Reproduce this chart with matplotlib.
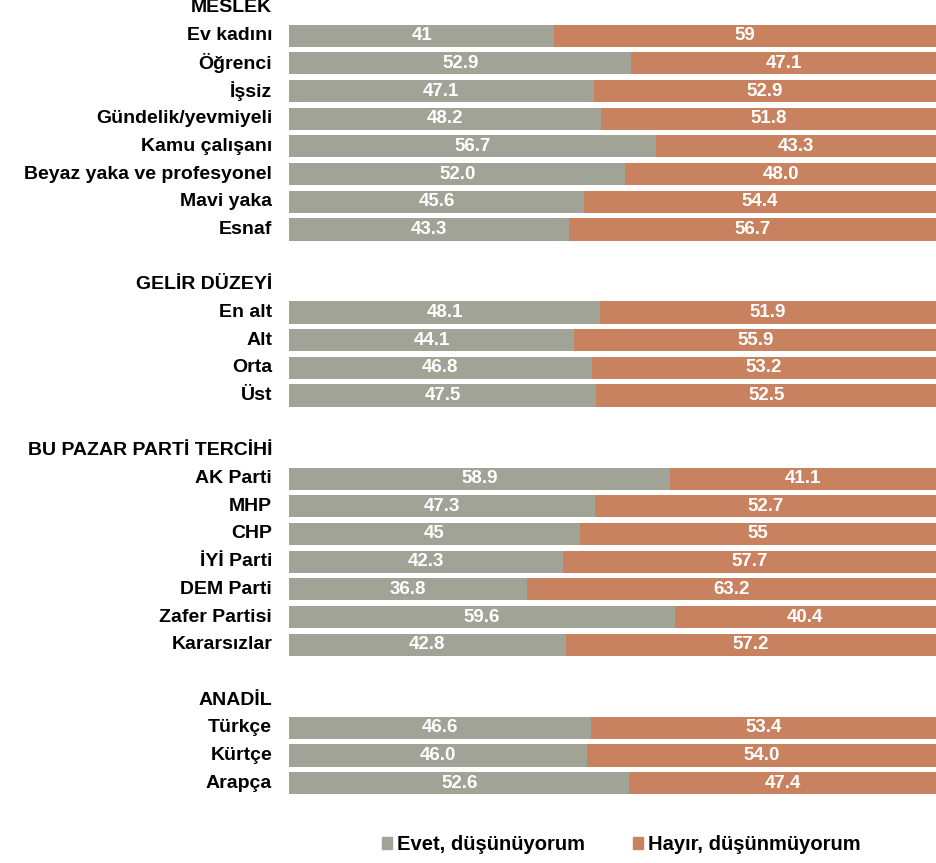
import matplotlib
matplotlib.use("Agg")
import matplotlib.pyplot as plt
from matplotlib.patches import Patch

plt.rcParams['font.family'] = ['Liberation Sans', 'DejaVu Sans']
plt.rcParams['font.weight'] = 'bold'

# groups and rows, in top-to-bottom order
groups = ['MESLEK', 'GELİR DÜZEYİ', 'BU PAZAR PARTİ TERCİHİ', 'ANADİL']
categories = [
    ['Ev kadını', 'Öğrenci', 'İşsiz', 'Gündelik/yevmiyeli', 'Kamu çalışanı',
     'Beyaz yaka ve profesyonel', 'Mavi yaka', 'Esnaf'],
    ['En alt', 'Alt', 'Orta', 'Üst'],
    ['AK Parti', 'MHP', 'CHP', 'İYİ Parti', 'DEM Parti', 'Zafer Partisi', 'Kararsızlar'],
    ['Türkçe', 'Kürtçe', 'Arapça'],
]
evet = [
    ['41', '52.9', '47.1', '48.2', '56.7', '52.0', '45.6', '43.3'],
    ['48.1', '44.1', '46.8', '47.5'],
    ['58.9', '47.3', '45', '42.3', '36.8', '59.6', '42.8'],
    ['46.6', '46.0', '52.6'],
]
hayir = [
    ['59', '47.1', '52.9', '51.8', '43.3', '48.0', '54.4', '56.7'],
    ['51.9', '55.9', '53.2', '52.5'],
    ['41.1', '52.7', '55', '57.7', '63.2', '40.4', '57.2'],
    ['53.4', '54.0', '47.4'],
]
series_names = ['Evet, düşünüyorum', 'Hayır, düşünmüyorum']

c_evet = '#A0A396'
c_hayir = '#C8825F'

fig = plt.figure(figsize=(9.36, 8.63), dpi=100)
ax = fig.add_axes([0.3088, 0.0765, 0.6912, 0.9303])

lab_fs = 14
val_fs = 13.5

slot = 0
for g, cats, ev, ha in zip(groups, categories, evet, hayir):
    ax.text(-2.6, slot, g, ha='right', va='center', fontsize=lab_fs,
            fontweight='bold', clip_on=False)
    slot += 1
    for cat, e, h in zip(cats, ev, ha):
        ev_v = float(e)
        ha_v = float(h)
        ax.barh(slot, ev_v, height=0.8, color=c_evet)
        ax.barh(slot, ha_v, left=ev_v, height=0.8, color=c_hayir)
        ax.text(ev_v / 2, slot, e, ha='center', va='center', color='white',
                fontsize=val_fs, fontweight='bold')
        ax.text(ev_v + ha_v / 2, slot, h, ha='center', va='center', color='white',
                fontsize=val_fs, fontweight='bold')
        ax.text(-2.6, slot, cat, ha='right', va='center', fontsize=lab_fs,
                fontweight='bold', clip_on=False)
        slot += 1
    slot += 1  # blank gap between groups

ax.set_xlim(0, 100)
ax.set_ylim(slot - 1.5, -0.5)
ax.axis('off')

handles = [Patch(color=c_evet), Patch(color=c_hayir)]
fig.legend(handles, series_names, loc='center', bbox_to_anchor=(0.664, 0.021),
           ncol=2, frameon=False, handlelength=0.5, handleheight=0.5,
           handletextpad=0.25, columnspacing=2.4,
           prop={'weight': 'bold', 'size': 14.5})

fig.savefig('out.png', dpi=100)
